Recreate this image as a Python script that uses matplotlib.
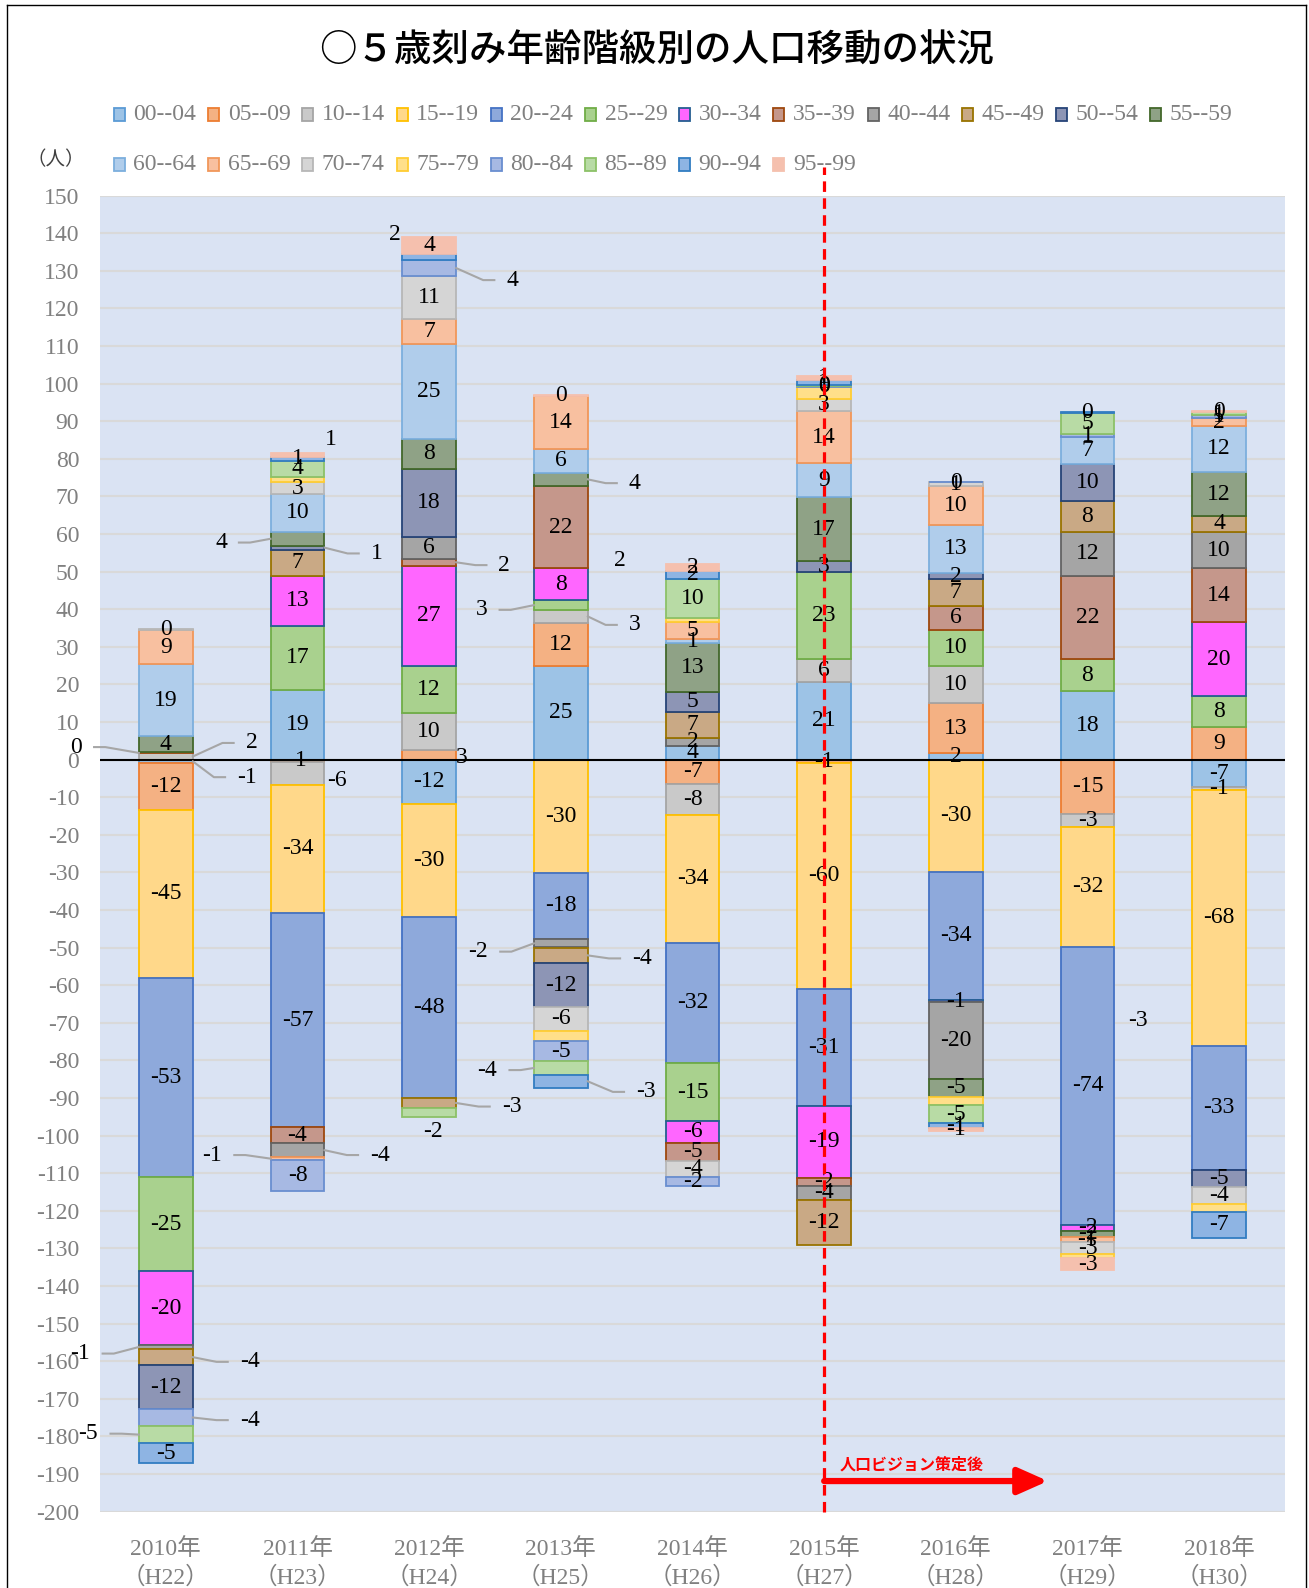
import matplotlib
matplotlib.use("Agg")
import matplotlib.pyplot as plt
import numpy as np
from matplotlib.lines import Line2D
from matplotlib.patches import Rectangle

plt.rcParams["axes.unicode_minus"] = False

W, H = 1309, 1588
SERIF = ["Liberation Serif", "Noto Sans CJK JP"]
CJK = ["Noto Sans CJK JP", "DejaVu Sans"]
LABEL_SIZE = 17

YEARS = ["2010年\n（H22）", "2011年\n（H23）", "2012年\n（H24）", "2013年\n（H25）",
         "2014年\n（H26）", "2015年\n（H27）", "2016年\n（H28）", "2017年\n（H29）",
         "2018年\n（H30）"]
AGE_GROUPS = ["00--04", "05--09", "10--14", "15--19", "20--24", "25--29", "30--34",
              "35--39", "40--44", "45--49", "50--54", "55--59", "60--64", "65--69",
              "70--74", "75--79", "80--84", "85--89", "90--94", "95--99"]
FILLS = ["#9DC3E6", "#F4B183", "#C9C9C9", "#FFD88A", "#8EA9DB", "#A9D18E", "#FF66FF",
         "#C5978B", "#A5A5A5", "#C9A985", "#8D95B5", "#8FA286", "#B0CDEB", "#F8C0A0",
         "#D5D5D5", "#FFDF8A", "#A7B9E3", "#B8DBA5", "#8EB4E3", "#F5C0AE"]
EDGES = ["#5B9BD5", "#ED7D31", "#A5A5A5", "#FFC000", "#4472C4", "#70AD47", "#255E91",
         "#9E480E", "#636363", "#997300", "#264478", "#43682B", "#7CAFDD", "#F1975A",
         "#B7B7B7", "#FFCD33", "#698ED0", "#8CC168", "#327DC2", "#F5C0AE"]

# net migration per age group (00-04 ... 95-99), one list per year
y2010 = [-1.0, -12.4, 1.6, -44.7, -53.0, -25.0, -19.6, 0.3, -1.1, -4.3,
         -11.7, 4.3, 19.1, 9.1, 0.4, 0.0, -4.4, -4.7, -5.2, 0.0]
y2011 = [18.6, -0.7, -6.1, -34.0, -57.0, 17.0, 13.3, -4.3, -3.6, 6.9,
         1.1, 3.6, 10.2, -0.9, 3.0, 1.4, -8.1, 4.4, 1.0, 0.9]
y2012 = [-11.9, 2.6, 9.9, -30.0, -48.0, 12.4, 26.6, 1.9, 5.9, -2.9,
         18.0, 8.0, 25.1, 6.8, 11.3, 0.0, 4.4, -2.4, 1.6, 4.4]
y2013 = [24.8, 11.6, 3.3, -30.1, -17.7, 2.7, 8.4, 21.9, -2.2, -4.2,
         -11.6, 3.6, 6.4, 14.0, -6.4, -2.7, -5.3, -3.7, -3.4, 0.2]
y2014 = [3.6, -6.6, -8.2, -33.9, -32.1, -15.3, -5.8, -4.9, 2.2, 6.9,
         5.3, 12.9, 1.1, 4.7, -4.2, 0.9, -2.3, 10.4, 2.2, 1.8]
y2015 = [20.6, -0.8, 6.0, -60.3, -31.0, 23.4, -19.1, -2.1, -3.9, -12.0,
         2.7, 17.0, 9.1, 13.9, 3.3, 3.0, 0.3, 0.2, 1.4, 1.2]
y2016 = [1.8, 13.1, 10.0, -29.9, -34.0, 9.6, -0.7, 6.4, -20.4, 7.0,
         1.7, -4.7, 12.8, 10.3, 1.0, -2.3, 0.2, -4.7, -1.2, -1.0]
y2017 = [18.2, -14.6, -3.4, -31.8, -73.9, 8.5, -1.6, 22.2, 11.7, 8.2,
         9.9, -1.7, 7.0, -1.4, -3.2, -1.0, 1.0, 5.4, 0.3, -3.3]
y2018 = [-7.2, 8.6, -0.9, -68.0, -33.1, 8.2, 19.7, 14.4, 9.6, 4.3,
         -4.6, 11.6, 12.4, 1.9, -4.3, -2.2, 0.9, 0.9, -6.9, 0.2]

VALUES = np.array([y2010, y2011, y2012, y2013, y2014, y2015, y2016, y2017, y2018])

# labels moved off their segment: (year, group) -> (x offset from bar centre, label y)
CALLOUTS = {
    (0, 7): (-0.68, 3.3), (0, 2): (0.65, 4.4), (0, 0): (0.62, -4.7),
    (0, 8): (-0.65, -158.0), (0, 9): (0.64, -160.2), (0, 16): (0.64, -175.7),
    (0, 17): (-0.59, -179.3),
    (1, 19): (0.25, 85.0), (1, 11): (-0.58, 57.7), (1, 10): (0.60, 54.8),
    (1, 2): (0.30, -5.5), (1, 8): (0.63, -105.2), (1, 13): (-0.65, -105.2),
    (2, 18): (-0.26, 139.5), (2, 16): (0.63, 127.5), (2, 7): (0.57, 51.7),
    (2, 1): (0.25, 0.4), (2, 9): (0.63, -92.3), (2, 17): (0.03, -99.0),
    (3, 11): (0.56, 73.5), (3, 5): (-0.60, 39.8), (3, 2): (0.56, 35.8),
    (3, 8): (-0.63, -51.1), (3, 9): (0.62, -52.9), (3, 17): (-0.56, -82.6),
    (3, 18): (0.65, -88.4),
}
NO_LABEL = {15}
EXTRA_LABELS = [(3, 0.45, 53.0, "2"), (7, 0.38, -69.3, "-3")]

BAR_W = 0.41

fig = plt.figure(figsize=(W / 100, H / 100), dpi=100)
ax = fig.add_axes([100 / W, 1 - 1511.5 / H, 1185 / W, 1316 / H])
ax.set_facecolor("#DAE3F3")
for sp in ax.spines.values():
    sp.set_visible(False)

x = np.arange(len(YEARS))
pos = np.zeros(len(YEARS))
neg = np.zeros(len(YEARS))
for s, name in enumerate(AGE_GROUPS):
    v = VALUES[:, s]
    bottom = np.where(v >= 0, pos, neg)
    m = v != 0
    ax.bar(x[m], v[m], width=BAR_W, bottom=bottom[m], color=FILLS[s],
           edgecolor=EDGES[s], linewidth=1.3, zorder=2)
    for yi in np.nonzero(m)[0]:
        if s in NO_LABEL:
            continue
        txt = f"{int(round(v[yi]))}"
        mid = bottom[yi] + v[yi] / 2
        xo, ly = CALLOUTS.get((yi, s), (0.0, mid))
        lx = yi + xo
        ax.text(lx, ly, txt, ha="center", va="center", fontsize=LABEL_SIZE,
                family=SERIF, color="black", zorder=5)
        if abs(xo) > 0.45:
            sgn = np.sign(xo)
            end = lx - sgn * (0.1 + 0.035 * len(txt))
            kink = end - sgn * 0.085
            ax.plot([yi + sgn * BAR_W / 2, kink, end], [mid, ly, ly],
                    color="#A6A6A6", lw=1.5, zorder=4, clip_on=False)
    pos += np.where(v > 0, v, 0)
    neg += np.where(v < 0, v, 0)

for yi, xo, ly, txt in EXTRA_LABELS:
    ax.text(yi + xo, ly, txt, ha="center", va="center", fontsize=LABEL_SIZE,
            family=SERIF, color="black", zorder=5)

ax.axhline(0, color="black", lw=1.5, zorder=3)
ax.set_xlim(-0.5, len(YEARS) - 0.5)
ax.set_ylim(-200, 150)
ax.set_yticks(np.arange(-200, 151, 10))
ax.yaxis.grid(True, color="#D9D9D9", lw=1.5)
ax.set_axisbelow(True)
ax.set_xticks(x)
ax.set_xticklabels(YEARS, linespacing=1.35)
ax.tick_params(axis="y", length=0, pad=15, labelsize=LABEL_SIZE, labelcolor="#808080")
ax.tick_params(axis="x", length=0, pad=19, labelsize=LABEL_SIZE, labelcolor="#808080")
for lab in ax.get_xticklabels() + ax.get_yticklabels():
    lab.set_family(SERIF)

# 2015 vision line and arrow
ax.plot([5, 5], [-200, 157.5], color="red", lw=2.3, dashes=(3.3, 2), zorder=6,
        clip_on=False)
ax.annotate("", xy=(6.7, -191.9), xytext=(5.0, -191.9),
            arrowprops=dict(arrowstyle="-|>,head_length=0.9,head_width=0.4",
                            mutation_scale=20, lw=4.5, color="red",
                            shrinkA=0, shrinkB=0), zorder=6)
ax.text(5.12, -187.6, "人口ビジョン策定後", ha="left", va="center", fontsize=11.5,
        family=CJK, weight="bold", color="red", zorder=6)

# legend, two rows of twelve
for i, name in enumerate(AGE_GROUPS):
    row, col = divmod(i, 12)
    cx = 119.5 + col * 94.2
    cy = 114.5 + row * 49.5
    fig.patches.append(Rectangle(((cx - 5.5) / W, 1 - (cy + 6.5) / H), 11 / W, 13 / H,
                                 transform=fig.transFigure, facecolor=FILLS[i],
                                 edgecolor=EDGES[i], lw=1.3))
    fig.text((cx + 14) / W, 1 - cy / H, name, ha="left", va="center",
             fontsize=LABEL_SIZE, family=SERIF, color="#808080")

fig.text(56 / W, 1 - 160 / H, "（人）", ha="center", va="center", fontsize=14,
         family=CJK, color="#404040")
fig.text(657 / W, 1 - 50.6 / H, "○５歳刻み年齢階級別の人口移動の状況", ha="center",
         va="center", fontsize=27, family=CJK, weight="medium", color="black")

# outer frame
for xs, ys in [([7, 7], [5, H]), ([7, 1306], [5, 5]), ([1306, 1306], [5, H])]:
    fig.add_artist(Line2D([a / W for a in xs], [1 - b / H for b in ys],
                          color="black", lw=1))

fig.savefig("out.png", dpi=100)
